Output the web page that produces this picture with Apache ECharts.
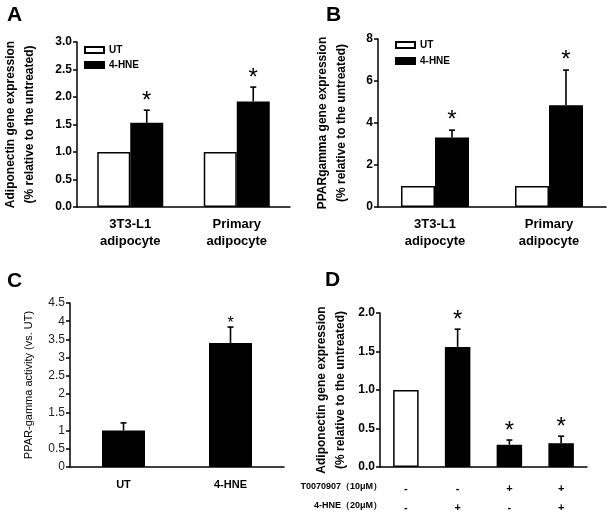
<!DOCTYPE html>
<html><head><meta charset="utf-8">
<script src="https://cdn.jsdelivr.net/npm/echarts@6/dist/echarts.min.js"></script>
<style>html,body{margin:0;padding:0;background:#fff}#c{width:613px;height:518px}</style>
</head><body><div id="c"></div>
<script>
// ---- data ----
const catsAB = ['3T3-L1\nadipocyte', 'Primary\nadipocyte'];
const groupNames = ['UT', '4-HNE'];
const aUT = [1.0, 1.0];
const aHNE = [1.53, 1.92];
const aHNEsd = [0.23, 0.26];
const aHNEstar = [1, 1];
const bUT = [1.0, 1.0];
const bHNE = [3.31, 4.85];
const bHNEsd = [0.35, 1.67];
const bHNEstar = [1, 1];
const cCats = ['UT', '4-HNE'];
const cVals = [1.0, 3.40];
const cSd = [0.21, 0.44];
const cStar = [0, 1];
const dT007 = ['-', '-', '+', '+'];
const dHNE = ['-', '+', '-', '+'];
const dVals = [1.0, 1.56, 0.29, 0.31];
const dSd = [0, 0.23, 0.06, 0.09];
const dStar = [0, 1, 1, 1];
const dRowHeaders = ['T0070907\uFF0810\u03BCM\uFF09', '4-HNE\uFF0820\u03BCM\uFF09'];
const panelLetters = ['A', 'B', 'C', 'D'];

const FF = '"Liberation Sans", Arial, sans-serif';
const chart = echarts.init(document.getElementById('c'), null, {renderer: 'canvas'});

function makeErr(offset, capHalf, starFont, starGap) {
  return function (params, api) {
    const i = api.value(0), v = api.value(1), sd = api.value(2), star = api.value(3);
    const p0 = api.coord([i, v]);
    const p1 = api.coord([i, v + sd]);
    const x = p0[0] + offset;
    const ch = [];
    if (sd > 0) {
      ch.push({type: 'line', shape: {x1: x, y1: p0[1], x2: x, y2: p1[1]}, style: {stroke: '#000', lineWidth: 1.6}});
      ch.push({type: 'line', shape: {x1: x - capHalf, y1: p1[1], x2: x + capHalf, y2: p1[1]}, style: {stroke: '#000', lineWidth: 1.6}});
    }
    if (star) {
      ch.push({type: 'text', x: x, y: p1[1] - starGap,
        style: {text: '*', fill: '#000', font: starFont, textAlign: 'center', textVerticalAlign: 'middle'}});
    }
    return {type: 'group', children: ch};
  };
}

const axisLineStyle = {show: true, lineStyle: {color: '#000', width: 1.5}};
function yAx(gi, max, interval, name, nameGap, bold, fmt, nameSize) {
  return {
    type: 'value', gridIndex: gi, min: 0, max: max, interval: interval,
    name: name, nameLocation: 'middle', nameRotate: 90, nameGap: nameGap,
    nameTextStyle: {fontFamily: FF, fontWeight: bold ? 'bold' : 'normal', fontSize: nameSize, color: '#000', lineHeight: bold ? 19 : 14},
    axisLine: axisLineStyle,
    axisTick: {show: true, length: 4, lineStyle: {color: '#000', width: 1.5}},
    splitLine: {show: false},
    axisLabel: {fontFamily: FF, fontWeight: bold ? 'bold' : 'normal', fontSize: 12, color: bold ? '#000' : '#222', margin: 5,
      formatter: fmt}
  };
}
function xAx(gi, cats, labelOpts) {
  return Object.assign({
    type: 'category', gridIndex: gi, data: cats,
    axisLine: axisLineStyle, axisTick: {show: false},
  }, labelOpts);
}

const wA = 33, wB = 34, wC = 43, wD = 25.5;

const option = {
  animation: false,
  backgroundColor: '#fff',
  grid: [
    {left: 68, top: 42, width: 222, height: 165},
    {left: 378, top: 39, width: 228, height: 168},
    {left: 70, top: 303, width: 214, height: 164},
    {left: 380, top: 313, width: 207, height: 154}
  ],
  legend: [
    {data: groupNames, left: 84, top: 45, orient: 'vertical', itemWidth: 19, itemHeight: 6, itemGap: 5, padding: 0,
      icon: 'rect', textStyle: {fontFamily: FF, fontWeight: 'bold', fontSize: 10, color: '#000'}, selectedMode: false},
    {data: groupNames, left: 395, top: 40, orient: 'vertical', itemWidth: 19, itemHeight: 6, itemGap: 6, padding: 0,
      icon: 'rect', textStyle: {fontFamily: FF, fontWeight: 'bold', fontSize: 10, color: '#000'}, selectedMode: false}
  ],
  xAxis: [
    xAx(0, catsAB, {axisLabel: {fontFamily: FF, fontWeight: 'bold', fontSize: 13, color: '#000', lineHeight: 17, margin: 9}}),
    xAx(1, catsAB, {axisLabel: {fontFamily: FF, fontWeight: 'bold', fontSize: 13, color: '#000', lineHeight: 17, margin: 9}}),
    xAx(2, cCats, {axisLabel: {fontFamily: FF, fontWeight: 'bold', fontSize: 11, color: '#000', margin: 12}}),
    xAx(3, dVals.map((v, i) => i), {axisLabel: {fontFamily: FF, fontWeight: 'bold', fontSize: 11, color: '#000', lineHeight: 19, margin: 12,
      formatter: (v, i) => dT007[i] + '\n' + dHNE[i]}})
  ],
  yAxis: [
    yAx(0, 3, 0.5, 'Adiponectin gene expression\n(% relative to the untreated)', 38, true, v => v.toFixed(1), 12),
    yAx(1, 8, 2, 'PPARgamma gene expression\n(% relative to the untreated)', 27, true, v => String(v), 12),
    yAx(2, 4.5, 0.5, 'PPAR-gamma activity (vs. UT)', 34, false, v => String(v), 11),
    yAx(3, 2, 0.5, 'Adiponectin gene expression\n(% relative to the untreated)', 30, true, v => v.toFixed(1), 12)
  ],
  series: [
    {name: 'UT', type: 'bar', xAxisIndex: 0, yAxisIndex: 0, data: aUT, barWidth: wA, barGap: '0%',
      itemStyle: {color: '#fff', borderColor: '#000', borderWidth: 1.5}},
    {name: '4-HNE', type: 'bar', xAxisIndex: 0, yAxisIndex: 0, data: aHNE, barWidth: wA, barGap: '0%',
      itemStyle: {color: '#000', borderColor: '#000', borderWidth: 1.5}},
    {type: 'custom', xAxisIndex: 0, yAxisIndex: 0, z: 5, renderItem: makeErr(wA / 2, 3, '24px ' + FF, 9),
      data: aHNE.map((v, i) => [i, v, aHNEsd[i], aHNEstar[i]]), encode: {x: 0, y: 1}},

    {name: 'UT', type: 'bar', xAxisIndex: 1, yAxisIndex: 1, data: bUT, barWidth: wB, barGap: '0%',
      itemStyle: {color: '#fff', borderColor: '#000', borderWidth: 1.5}},
    {name: '4-HNE', type: 'bar', xAxisIndex: 1, yAxisIndex: 1, data: bHNE, barWidth: wB, barGap: '0%',
      itemStyle: {color: '#000', borderColor: '#000', borderWidth: 1.5}},
    {type: 'custom', xAxisIndex: 1, yAxisIndex: 1, z: 5, renderItem: makeErr(wB / 2, 3, '24px ' + FF, 10),
      data: bHNE.map((v, i) => [i, v, bHNEsd[i], bHNEstar[i]]), encode: {x: 0, y: 1}},

    {type: 'bar', xAxisIndex: 2, yAxisIndex: 2, data: cVals, barWidth: wC,
      itemStyle: {color: '#000', borderColor: '#000', borderWidth: 1.5}},
    {type: 'custom', xAxisIndex: 2, yAxisIndex: 2, z: 5, renderItem: makeErr(0, 3, '16px ' + FF, 3),
      data: cVals.map((v, i) => [i, v, cSd[i], cStar[i]]), encode: {x: 0, y: 1}},

    {type: 'bar', xAxisIndex: 3, yAxisIndex: 3, barWidth: wD,
      data: dVals.map((v, i) => ({value: v, itemStyle: {color: (dT007[i] === '-' && dHNE[i] === '-') ? '#fff' : '#000'}})),
      itemStyle: {borderColor: '#000', borderWidth: 1.5}},
    {type: 'custom', xAxisIndex: 3, yAxisIndex: 3, z: 5, renderItem: makeErr(0, 3, '24px ' + FF, 9),
      data: dVals.map((v, i) => [i, v, dSd[i], dStar[i]]), encode: {x: 0, y: 1}}
  ],
  graphic: [
    {type: 'text', left: 7, top: 5, style: {text: panelLetters[0], font: 'bold 21px ' + FF, fill: '#000'}},
    {type: 'text', left: 326, top: 5, style: {text: panelLetters[1], font: 'bold 21px ' + FF, fill: '#000'}},
    {type: 'text', left: 7, top: 271, style: {text: panelLetters[2], font: 'bold 21px ' + FF, fill: '#000'}},
    {type: 'text', left: 325, top: 270, style: {text: panelLetters[3], font: 'bold 21px ' + FF, fill: '#000'}},
    {type: 'text', right: 613 - 382, top: 482, style: {text: dRowHeaders[0], font: 'bold 9px ' + FF, fill: '#000'}},
    {type: 'text', right: 613 - 382, top: 501, style: {text: dRowHeaders[1], font: 'bold 9px ' + FF, fill: '#000'}}
  ]
};
chart.setOption(option);
</script>
</body></html>
